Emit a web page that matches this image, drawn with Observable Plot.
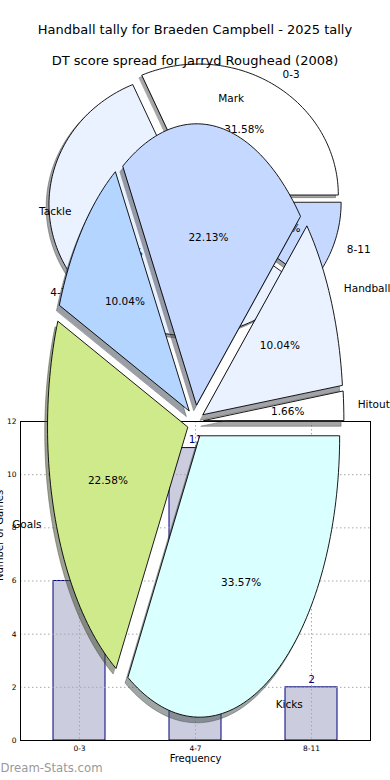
<!DOCTYPE html>
<html><head><meta charset="utf-8">
<script src="https://cdn.jsdelivr.net/npm/d3@7"></script>
<script src="https://cdn.jsdelivr.net/npm/@observablehq/plot@0.6"></script>
<style>
body{margin:0;background:#fff;}
#root{position:relative;width:390px;height:780px;overflow:hidden;font-family:"DejaVu Sans",sans-serif;background:#fff;}
#root svg{position:absolute;left:0;top:0;overflow:visible;}
.t{position:absolute;left:0;width:390px;text-align:center;font-size:13px;line-height:16px;color:#000;white-space:nowrap;}
</style></head><body><div id="root"></div>
<script>
// ---- data ----
const titleMain = "Handball tally for Braeden Campbell - 2025 tally";
const titleSub = "DT score spread for Jarryd Roughead (2008)";
const dtCategories = ["0-3", "4-7", "8-11"];
const dtCounts = [6, 11, 2];
const dtColors = ["#ffffff", "#eaf1ff", "#c5d8ff"];
const tallyCategories = ["Hitout", "Handball", "Mark", "Tackle", "Goals", "Kicks"];
const tallyPercents = [1.66, 10.04, 22.13, 10.04, 22.58, 33.57];
const tallyColors = ["#ffffff", "#eaf1ff", "#c5d8ff", "#b3d5ff", "#cfea8b", "#d9ffff"];
const yTicks = [0, 2, 4, 6, 8, 10, 12];
const xLabel = "Frequency";
const yLabel = "Number of Games";
const watermark = "Dream-Stats.com";

const dtData = dtCategories.map((c, i) => ({cat: c, count: dtCounts[i]}));

// ---- pie geometry (matplotlib-like: counterclockwise from 3 o'clock) ----
function pieGeometry(values, names, colors, explode, shownPct) {
  const total = d3.sum(values);
  const poly = [], labels = [], pcts = [];
  let a0 = 0;
  values.forEach((v, i) => {
    const a1 = a0 + v / total * 360;
    const m = (a0 + a1) / 2 * Math.PI / 180;
    const ox = explode * Math.cos(m), oy = explode * Math.sin(m);
    poly.push({slice: names[i], color: colors[i], x: ox, y: oy});
    const n = Math.max(4, Math.ceil((a1 - a0) / 1.5));
    for (let k = 0; k <= n; k++) {
      const t = (a0 + (a1 - a0) * k / n) * Math.PI / 180;
      poly.push({slice: names[i], color: colors[i], x: ox + Math.cos(t), y: oy + Math.sin(t)});
    }
    const lx = ox + 1.1 * Math.cos(m), ly = oy + 1.1 * Math.sin(m);
    labels.push({text: names[i], x: lx, y: ly, anchor: lx > 0 ? "start" : "end"});
    const p = shownPct ? shownPct[i] : v / total * 100;
    pcts.push({text: p.toFixed(2) + "%", x: ox + 0.6 * Math.cos(m), y: oy + 0.6 * Math.sin(m)});
    a0 = a1;
  });
  return {poly, labels, pcts};
}
function shadowColor(c) {
  const r = d3.rgb(c);
  return d3.rgb(r.r * 0.3, r.g * 0.3, r.b * 0.3).formatHex();
}
function piePlot(g, f) {
  const svg = Plot.plot({
    width: 390, height: 780,
    marginLeft: f.cx - f.rx, marginRight: 390 - f.cx - f.rx,
    marginTop: f.cy - f.ry, marginBottom: 780 - f.cy - f.ry,
    x: {domain: [-1, 1], axis: null},
    y: {domain: [-1, 1], axis: null},
    color: {type: "identity"},
    style: {background: "transparent", fontFamily: "DejaVu Sans", overflow: "visible"},
    marks: [
      Plot.line(g.poly, {x: "x", y: "y", z: "slice", fill: d => shadowColor(d.color), stroke: d => shadowColor(d.color),
        fillOpacity: 0.5, strokeOpacity: 0.5, strokeWidth: 0.9, curve: "linear-closed", dx: -0.02 * f.rx, dy: 0.02 * f.ry}),
      Plot.line(g.poly, {x: "x", y: "y", z: "slice", fill: "color", stroke: "#000", strokeWidth: 0.9,
        strokeLinejoin: "miter", curve: "linear-closed"}),
      Plot.text(g.labels.filter(d => d.anchor === "start"), {x: "x", y: "y", text: "text", textAnchor: "start", fontSize: 10.5, fill: "#000"}),
      Plot.text(g.labels.filter(d => d.anchor === "end"), {x: "x", y: "y", text: "text", textAnchor: "end", fontSize: 10.5, fill: "#000"}),
      Plot.text(g.pcts, {x: "x", y: "y", text: "text", textAnchor: "middle", fontSize: 10.5, fill: "#000"})
    ]
  });
  svg.style.background = "transparent";
  return svg;
}

// ---- bar chart ----
const bar = Plot.plot({
  width: 390, height: 780,
  marginLeft: 20, marginRight: 20, marginTop: 421, marginBottom: 40,
  style: {fontFamily: "DejaVu Sans", background: "white", overflow: "visible"},
  x: {type: "band", domain: dtCategories, paddingInner: 0.55, paddingOuter: 0.275, align: 0.5},
  y: {domain: [0, 12]},
  marks: [
    Plot.barY(dtData, {x: "cat", y: "count", fill: "#ccccdf", stroke: "#000080", strokeWidth: 1}),
    Plot.gridY(yTicks, {stroke: "#a8a8a8", strokeOpacity: 1, strokeDasharray: "1.5,2.5"}),
    Plot.gridX(dtCategories, {stroke: "#a8a8a8", strokeOpacity: 1, strokeDasharray: "1.5,2.5"}),
    Plot.text(dtData, {x: "cat", y: "count", text: d => String(d.count), dy: -8, fill: "#000080", fontSize: 10.5}),
    Plot.frame({stroke: "#000", strokeWidth: 1}),
    Plot.axisY(yTicks, {tickSize: 0, tickPadding: 4, fontSize: 7.5, label: null}),
    Plot.axisX({tickSize: 0, tickPadding: 5, fontSize: 7.5, label: null}),
    Plot.text([xLabel], {text: d => d, frameAnchor: "bottom", dy: 21, fontSize: 10}),
    Plot.text([yLabel], {text: d => d, frameAnchor: "left", dx: -21, rotate: -90, fontSize: 10}),
    Plot.text([watermark], {text: d => d, frameAnchor: "bottom-left", dx: -20, dy: 31, textAnchor: "start", fontSize: 11.7, fill: "#999"})
  ]
});

const root = document.getElementById("root");
root.appendChild(bar);
root.appendChild(piePlot(pieGeometry(dtCounts, dtCategories, dtColors, 0.05), {cx: 194, cy: 200, rx: 140, ry: 131}));
root.appendChild(piePlot(pieGeometry(tallyPercents, tallyCategories, tallyColors, 0.06, tallyPercents), {cx: 195, cy: 421, rx: 140, ry: 281}));

[[titleMain, 22], [titleSub, 53]].forEach(([t, top]) => {
  const d = document.createElement("div");
  d.className = "t"; d.style.top = top + "px"; d.textContent = t;
  root.appendChild(d);
});
</script></body></html>
